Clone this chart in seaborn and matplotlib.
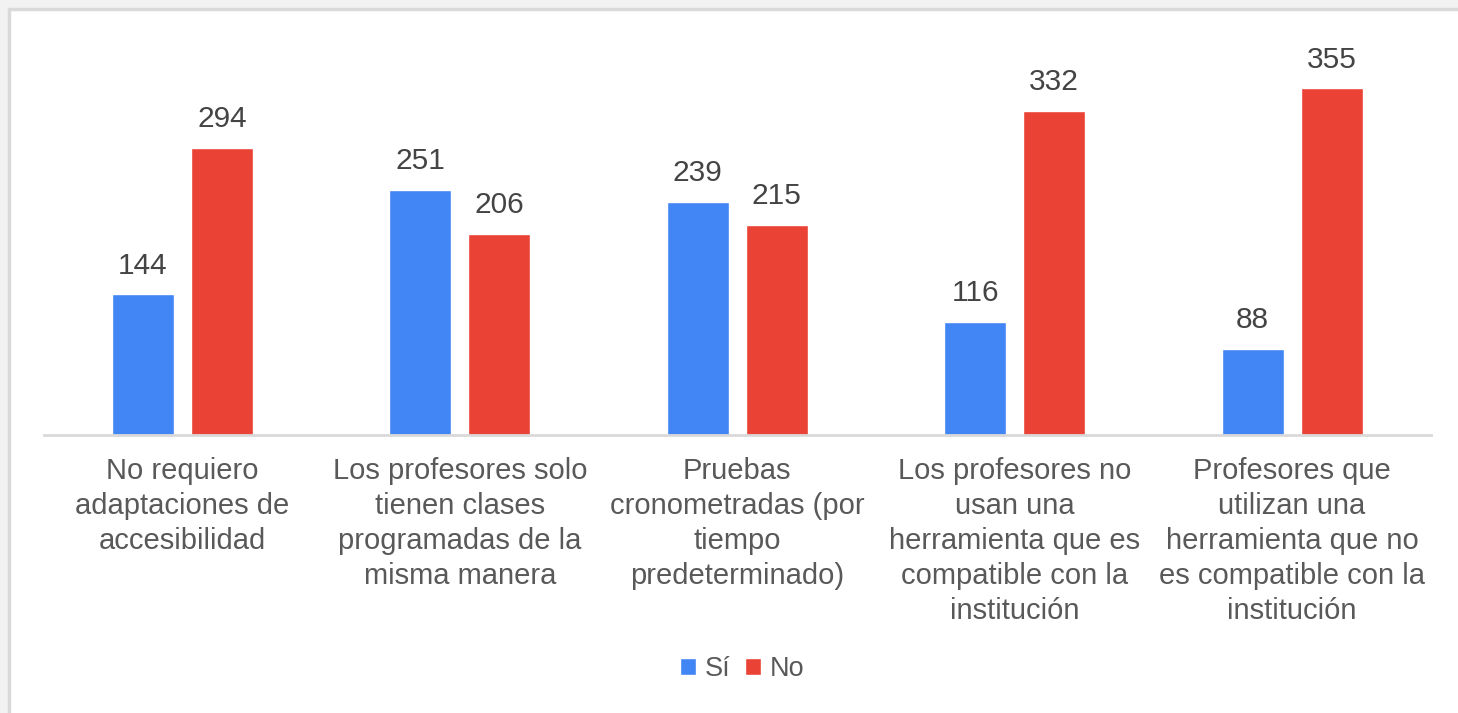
import matplotlib
matplotlib.use("Agg")
import matplotlib.pyplot as plt
from matplotlib.patches import Rectangle
from matplotlib.lines import Line2D
import pandas as pd
import seaborn as sns

categories = [
    "No requiero\nadaptaciones de\naccesibilidad",
    "Los profesores solo\ntienen clases\nprogramadas de la\nmisma manera",
    "Pruebas\ncronometradas (por\ntiempo\npredeterminado)",
    "Los profesores no\nusan una\nherramienta que es\ncompatible con la\ninstitución",
    "Profesores que\nutilizan una\nherramienta que no\nes compatible con la\ninstitución",
]
series = ["Sí", "No"]
si_values = [144, 251, 239, 116, 88]
no_values = [294, 206, 215, 332, 355]
colors = ["#4285F4", "#EA4335"]

df = pd.DataFrame({
    "categoria": categories * 2,
    "serie": [series[0]] * len(categories) + [series[1]] * len(categories),
    "valor": si_values + no_values,
})

sns.set_theme(style="white")
plt.rcParams["font.family"] = ["Liberation Sans", "DejaVu Sans"]

W, H = 1458, 713
fig = plt.figure(figsize=(W / 100, H / 100), dpi=100)
fig.patch.set_facecolor("#f2f2f2")
fig.add_artist(Rectangle((8.5 / W, 0), 1, 1 - 8.5 / H, transform=fig.transFigure,
                         facecolor="white", edgecolor="none", zorder=-2))
fig.add_artist(Line2D([8.5 / W, 1], [1 - 8.5 / H, 1 - 8.5 / H], transform=fig.transFigure,
                      color="#d9d9d9", lw=2.5, zorder=-1))
fig.add_artist(Line2D([8.5 / W, 8.5 / W], [0, 1 - 8.5 / H], transform=fig.transFigure,
                      color="#d9d9d9", lw=2.5, zorder=-1))

ax = fig.add_axes([43.8 / W, 278 / H, 1387 / W, 429.6 / H])
ax.set_facecolor("none")

sns.barplot(data=df, x="categoria", y="valor", hue="serie", hue_order=series,
            order=categories, palette=colors, width=0.57, gap=0.215,
            saturation=1, ax=ax, legend=True)

for cont in ax.containers:
    ax.bar_label(cont, padding=10.5, fontsize=21.5, color="#444444")

ax.set_ylim(0, 440)
ax.set_xlim(-0.5, 4.5)
ax.set_xlabel("")
ax.set_ylabel("")
ax.set_yticks([])
for s in ["top", "left", "right"]:
    ax.spines[s].set_visible(False)
ax.spines["bottom"].set_color("#d9d9d9")
ax.spines["bottom"].set_linewidth(2)
ax.tick_params(axis="x", length=0, pad=16, labelsize=21, labelcolor="#595959")
for lab in ax.get_xticklabels():
    lab.set_linespacing(1.31)

handles, labels = ax.get_legend_handles_labels()
ax.get_legend().remove()
fig.legend(handles, labels, loc="center", bbox_to_anchor=(0.509, 1 - 669 / H),
           ncol=2, frameon=False, fontsize=19.5, handlelength=0.6,
           handleheight=0.6, handletextpad=0.3, columnspacing=0.55,
           labelcolor="#595959")

fig.savefig("out.png", dpi=100, facecolor=fig.get_facecolor())
